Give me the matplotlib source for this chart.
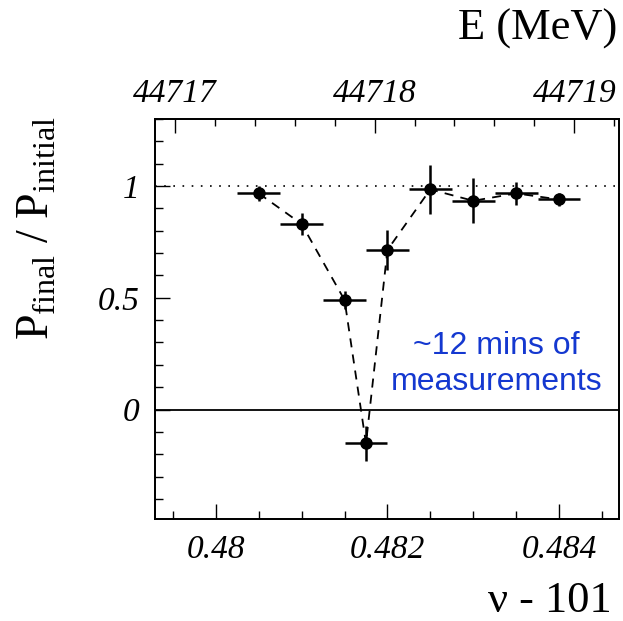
import matplotlib
matplotlib.use("Agg")
import matplotlib.pyplot as plt
from matplotlib.ticker import MultipleLocator

plt.rcParams['font.family'] = 'Liberation Serif'
plt.rcParams['mathtext.fontset'] = 'custom'
plt.rcParams['mathtext.rm'] = 'Liberation Serif'

# data
nu = [0.4805, 0.4810, 0.4815, 0.48175, 0.4820, 0.4825, 0.4830, 0.4835, 0.4840]
ratio = [0.967, 0.83, 0.49, -0.152, 0.714, 0.985, 0.934, 0.967, 0.94]
ratio_err = [0.035, 0.05, 0.04, 0.08, 0.09, 0.11, 0.10, 0.05, 0.03]
nu_err = [0.00025] * 9

nu_ticks = [0.480, 0.482, 0.484]
nu_labels = ["0.48", "0.482", "0.484"]
y_ticks = [0, 0.5, 1]
y_labels = ["0", "0.5", "1"]
E_ticks = [44717, 44718, 44719]
E_labels = ["44717", "44718", "44719"]

# linear map between nu and beam energy (top axis)
nu0 = 0.481850
dnu_dE = 0.0023296


def nu2e(x):
    return 44718 + (x - nu0) / dnu_dE


fig = plt.figure(figsize=(6.23, 6.21), dpi=100)
ax = fig.add_axes([155 / 623, 1 - 519 / 621, 464 / 623, 400 / 621])

ax.axhline(1, color='black', lw=1.2, ls=(0, (1, 4.5)))
ax.axhline(0, color='black', lw=1.3)

ax.plot(nu, ratio, color='black', lw=1.3, ls=(0, (5, 4)))
ax.errorbar(nu, ratio, yerr=ratio_err, xerr=nu_err, fmt='o', color='black',
            ms=8, elinewidth=1.8, capsize=0)

xlim = (0.47929, 0.48470)
ax.set_xlim(*xlim)
ax.set_ylim(-0.49, 1.3)

ax.set_xticks(nu_ticks, labels=nu_labels)
ax.xaxis.set_minor_locator(MultipleLocator(0.0005))
ax.set_yticks(y_ticks, labels=y_labels)
ax.yaxis.set_minor_locator(MultipleLocator(0.1))

ax.tick_params(axis='both', which='both', direction='in', width=1.0,
               labelsize=24, top=False, right=False)
ax.tick_params(axis='x', which='major', length=11, pad=11)
ax.tick_params(axis='x', which='minor', length=6)
ax.tick_params(axis='y', which='major', length=11, pad=11)
ax.tick_params(axis='y', which='minor', length=6)
for lab in ax.get_xticklabels() + ax.get_yticklabels():
    lab.set_fontstyle('italic')
for sp in ax.spines.values():
    sp.set_linewidth(1.3)

# top axis in MeV
ax2 = ax.twiny()
ax2.set_xlim(nu2e(xlim[0]), nu2e(xlim[1]))
ax2.set_xticks(E_ticks, labels=E_labels)
ax2.xaxis.set_minor_locator(MultipleLocator(0.2))
ax2.tick_params(which='both', direction='in', width=1.0, labelsize=24, pad=7)
ax2.tick_params(which='major', length=10)
ax2.tick_params(which='minor', length=5)
for lab in ax2.get_xticklabels():
    lab.set_fontstyle('italic')
for sp in ax2.spines.values():
    sp.set_linewidth(1.3)

ax.text(0.48327, 0.205, "~12 mins of\nmeasurements", color='#1438d0',
        family='Liberation Sans', fontsize=23, ha='center', va='center',
        linespacing=1.25)

fig.text(617 / 623, 1 - 40 / 621, "E (MeV)", fontsize=32, ha='right',
         va='baseline')
fig.text(612 / 623, 1 - 612 / 621, "ν - 101", fontsize=32, ha='right',
         va='baseline')
fig.text(37 / 623, 1 - 228 / 621,
         r"$\mathrm{P}_{\mathrm{final}}$ / $\mathrm{P}_{\mathrm{initial}}$",
         fontsize=33, rotation=90, ha='center', va='center')

fig.savefig("out.png", dpi=100)
